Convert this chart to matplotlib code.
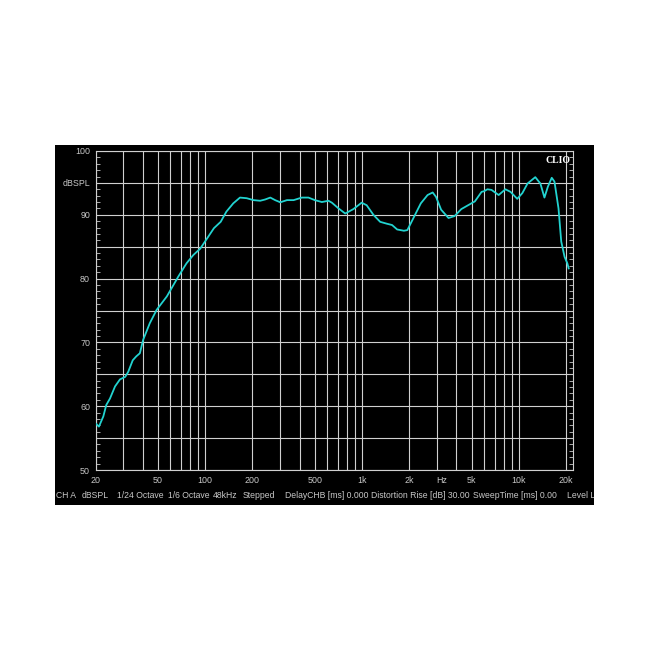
import numpy as np
import matplotlib
matplotlib.use("Agg")
import matplotlib.pyplot as plt

# frequency response
freq = [20, 21, 22.4, 23.4, 24.7, 26.6, 28.6, 30.9, 32.3, 34.5, 36.3, 38.3, 40.2,
        44.3, 49, 56.9, 67.3, 76, 84, 93, 102.8, 113.6, 125.5, 136.5, 151, 166.6,
        183.9, 203, 224, 241, 260, 279, 301, 332, 366, 413, 455, 500, 554, 611,
        642, 708, 781, 881, 994, 1070, 1181, 1304, 1440, 1553, 1674, 1849, 1944,
        2147, 2370, 2617, 2821, 2963, 3192, 3558, 3891, 4296, 4744, 5238, 5784,
        6000, 6300, 6690, 7430, 8200, 8840, 9760, 10520, 11350, 12720, 13710,
        14550, 15300, 16200, 16860, 17890, 18620, 19560, 20360, 20770]
spl = [57.3, 56.8, 58.4, 60.2, 61.2, 63.1, 64.2, 64.6, 65.4, 67.2, 67.8, 68.3, 70.4,
       73.0, 75.1, 77.2, 80.3, 82.4, 83.7, 84.7, 86.3, 87.9, 88.9, 90.5, 91.8, 92.7,
       92.6, 92.3, 92.2, 92.4, 92.7, 92.3, 91.96, 92.3, 92.3, 92.7, 92.7, 92.3, 92.0, 92.2,
       91.9, 91.0, 90.2, 90.9, 91.9, 91.5, 90.0, 88.9, 88.6, 88.4, 87.7, 87.5, 87.6,
       89.7, 91.8, 93.1, 93.5, 92.8, 90.8, 89.5, 89.8, 90.9, 91.5, 92.1, 93.6,
       93.7, 94.0, 93.9, 93.1, 94.0, 93.6, 92.5, 93.4, 94.9, 95.9, 94.9,
       92.7, 94.4, 95.8, 95.2, 91.0, 85.8, 83.4, 82.4, 81.6]

x_grid = [20, 30, 40, 50, 60, 70, 80, 90, 100, 200, 300, 400, 500, 600, 700, 800, 900,
          1000, 2000, 3000, 4000, 5000, 6000, 7000, 8000, 9000, 10000, 20000]
x_ticks = [20, 50, 100, 200, 500, 1000, 2000, 3200, 5000, 10000, 20000]
x_labels = ["20", "50", "100", "200", "500", "1k", "2k", "Hz", "5k", "10k", "20k"]
y_grid = [50, 55, 60, 65, 70, 75, 80, 85, 90, 95, 100]
y_ticks = [50, 60, 70, 80, 90, 95, 100]
y_labels = ["50", "60", "70", "80", "90", "dBSPL", "100"]

info = ["CH A", "dBSPL", "1/24 Octave", "1/6 Octave", "48kHz", "Stepped",
        "DelayCHB [ms] 0.000", "Distortion Rise [dB] 30.00",
        "SweepTime [ms] 0.00", "Level Low"]
info_x = [56, 82, 117, 168, 213, 243, 285, 371, 473, 567]

plt.rcParams["font.family"] = ["Liberation Sans", "DejaVu Sans"]
W = 650
fig = plt.figure(figsize=(6.5, 6.5), dpi=100, facecolor="white")

# black panel
panel = fig.add_axes([55 / W, 1 - 505 / W, 539 / W, 360 / W], facecolor="black")
panel.set_xlim(55, 594)
panel.set_ylim(505, 145)
panel.set_xticks([])
panel.set_yticks([])
for s in panel.spines.values():
    s.set_visible(False)
for t, xp in zip(info, info_x):
    panel.text(xp, 495, t, color="#c8c8c8", fontsize=6.2, va="center", ha="left",
               clip_on=True)

ax = fig.add_axes([95.6 / W, 1 - 470 / W, 477 / W, 319 / W], facecolor="black")
ax.set_xscale("log")
ax.set_xlim(20, 22000)
ax.set_ylim(50, 100)

for g in x_grid:
    ax.axvline(g, color="#d0d0d0", lw=0.8, zorder=1)
for g in y_grid:
    ax.axhline(g, color="#d0d0d0", lw=0.8, zorder=1)

ax.plot(freq, spl, color="#22d3d0", lw=1.3, zorder=3)

ax.set_xticks(x_ticks)
ax.set_xticklabels(x_labels)
ax.xaxis.set_minor_locator(matplotlib.ticker.NullLocator())
ax.set_yticks(y_ticks)
ax.set_yticklabels(y_labels)
ax.set_yticks(np.arange(50, 101, 1), minor=True)
ax.tick_params(axis="both", which="major", length=0, colors="#c8c8c8",
               labelsize=6.4, pad=4)
ax.tick_params(axis="y", which="minor", direction="in", length=3, width=0.6,
               color="#c8c8c8", left=True, right=True)
for s in ax.spines.values():
    s.set_color("#d0d0d0")
    s.set_linewidth(0.8)

ax.text(0.995, 0.985, "CLIO", transform=ax.transAxes, ha="right", va="top",
        color="white", fontsize=7, fontweight="bold", family="Liberation Serif")

fig.savefig("out.png", dpi=100, facecolor="white")
